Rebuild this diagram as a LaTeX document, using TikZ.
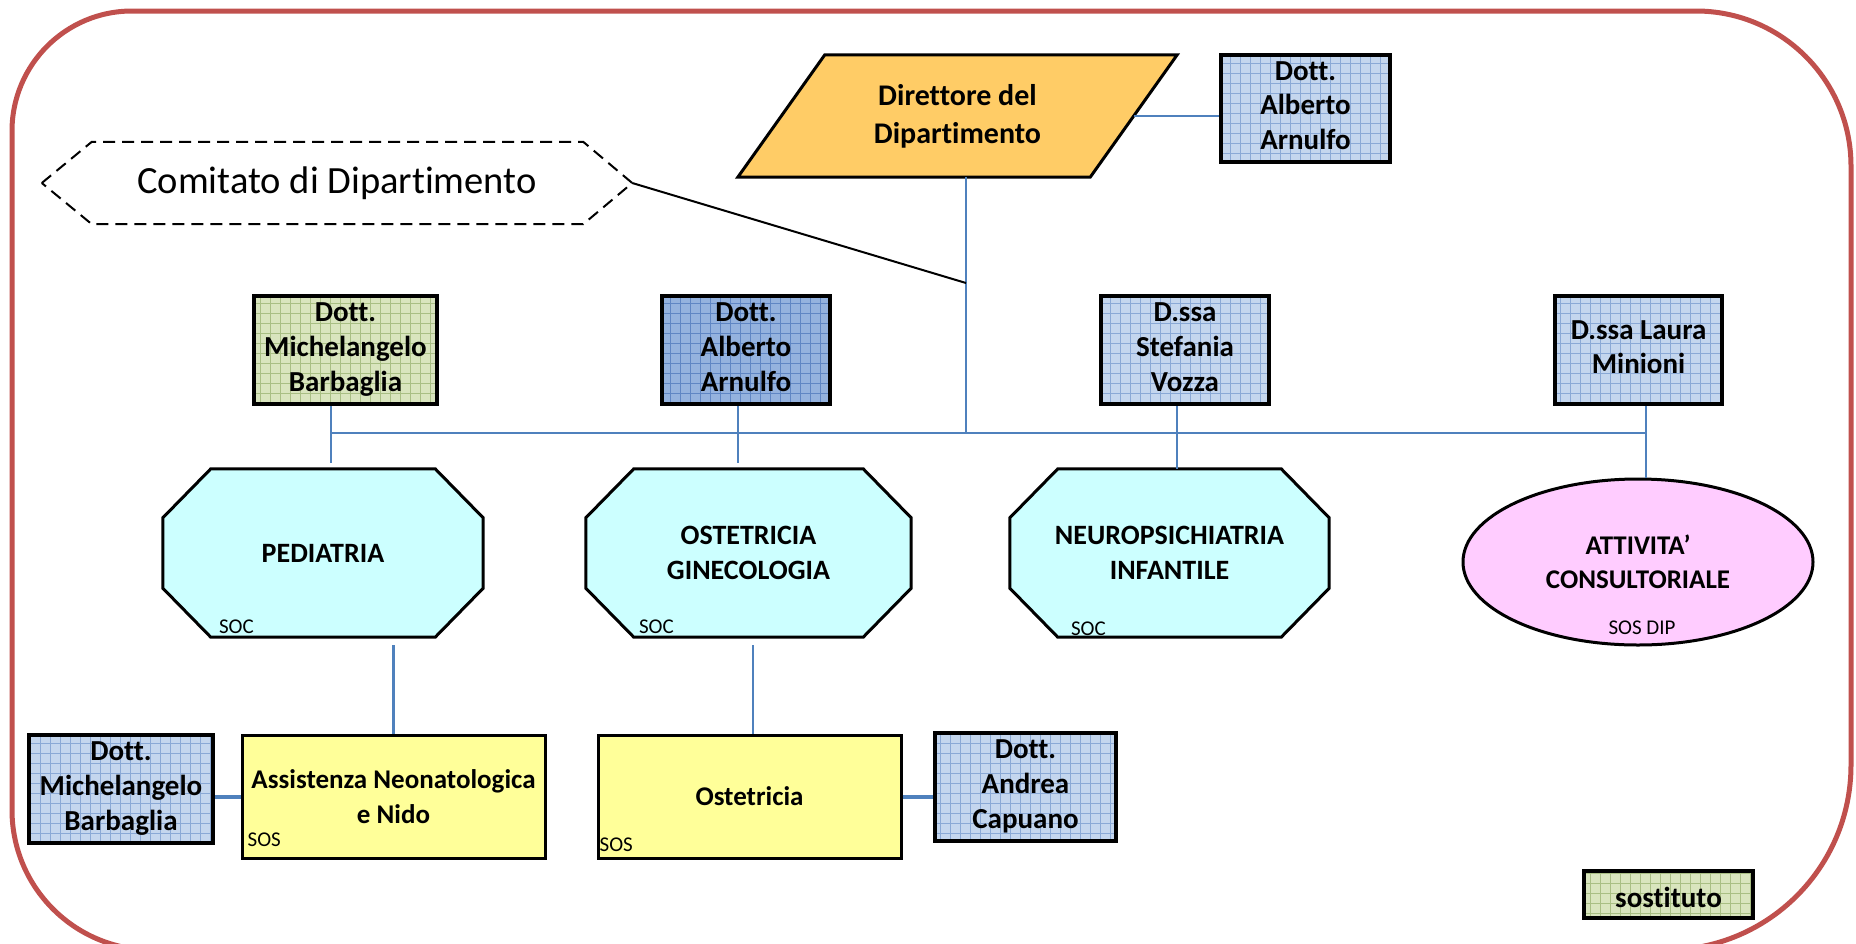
\documentclass[tikz,border=0pt]{standalone}
\usepackage{fontspec}
\setmainfont{Carlito}[Ligatures=NoCommon]
\usetikzlibrary{shapes.geometric,patterns.meta,calc}
\pgfdeclarelayer{bg}
\pgfsetlayers{bg,main}
\definecolor{borderred}{HTML}{C0504D}
\definecolor{connblue}{HTML}{4F81BD}
\definecolor{persfill}{HTML}{C4D6EE}
\definecolor{persgrid}{HTML}{8AA9D6}
\definecolor{darkfill}{HTML}{94B2DE}
\definecolor{darkgrid}{HTML}{5F86C4}
\definecolor{greenfill}{HTML}{D9E5BE}
\definecolor{greengrid}{HTML}{A9BF84}
\definecolor{dirorange}{HTML}{FFCC66}
\definecolor{octfill}{HTML}{CCFFFF}
\definecolor{pinkfill}{HTML}{FFCCFF}
\definecolor{yelfill}{HTML}{FFFF99}
\newcommand\mkoct[1]{%
  \begin{pgfonlayer}{bg}
  \draw[octline] ([xshift=48pt]#1.north west) -- ([xshift=-48pt]#1.north east)
    -- ([yshift=-49pt]#1.north east) -- ([yshift=49pt]#1.south east)
    -- ([xshift=-48pt]#1.south east) -- ([xshift=48pt]#1.south west)
    -- ([yshift=49pt]#1.south west) -- ([yshift=-49pt]#1.north west) -- cycle;
  \end{pgfonlayer}}
\newcommand\topstrut{\rule[-6pt]{0pt}{38pt}}
\newcommand\botstrut{\rule[-6pt]{0pt}{30pt}}
\begin{document}
\begin{tikzpicture}[x=1pt,y=-1pt,
  bigtxt/.style={font=\fontsize{27}{34.5}\selectfont\bfseries,align=center},
  smalltxt/.style={font=\fontsize{21}{24}\selectfont,inner sep=0pt},
  persbase/.style={font=\fontsize{29}{34.7}\selectfont\bfseries,align=center,
    draw=black,line width=4pt,inner sep=0pt,
    execute at begin node=\topstrut, execute at end node=\botstrut},
  pers/.style={persbase,preaction={fill=persfill},
    preaction={pattern={Hatch[angle=0,distance=10pt,line width=0.8pt]},pattern color=persgrid}},
  persdark/.style={persbase,preaction={fill=darkfill},
    preaction={pattern={Hatch[angle=0,distance=10pt,line width=0.8pt]},pattern color=darkgrid}},
  persgreen/.style={persbase,preaction={fill=greenfill},
    preaction={pattern={Hatch[angle=0,distance=10pt,line width=0.8pt]},pattern color=greengrid}},
  octnode/.style={font=\fontsize{28}{34.5}\selectfont\bfseries,align=center,inner sep=0pt,minimum height=168pt},
  octline/.style={draw=black,fill=octfill,line width=3pt},
  sosbox/.style={bigtxt,draw=black,fill=yelfill,line width=3pt,inner sep=0pt,
    minimum width=303pt,minimum height=123pt},
  conn/.style={draw=connblue,line width=2.5pt},
  connthick/.style={draw=connblue,line width=4pt},
  blk/.style={draw=black,line width=2pt},
]
\useasboundingbox (0,0) rectangle (1856,943);
% outer border
\draw[borderred,line width=5pt] (12,131) arc[start angle=180,end angle=270,radius=120]
  -- (1696,11) arc[start angle=270,end angle=360,radius=155]
  -- (1851,765) arc[start angle=0,end angle=90,radius=185]
  -- (152,950) arc[start angle=90,end angle=180,radius=140] -- cycle;

% director
\node[align=center,font=\fontsize{30}{38}\selectfont\bfseries,inner sep=0pt,
  minimum width=439pt,minimum height=122pt] (dir) at (957.5,116) {Direttore del\\Dipartimento};
\begin{pgfonlayer}{bg}
\draw[draw=black,fill=dirorange,line width=3pt] (dir.south west) -- ([xshift=-87pt]dir.south east)
  -- (dir.north east) -- ([xshift=87pt]dir.north west) -- cycle;
\end{pgfonlayer}
\node[pers,minimum width=169pt,minimum height=107pt] (arn0) at (1305.5,108.5) {Dott.\\Alberto\\Arnulfo};

% comitato
\node[font=\fontsize{38.5}{44}\selectfont,inner sep=0pt,minimum width=590pt,minimum height=82pt] (com) at (337,183) {Comitato di Dipartimento};
\begin{pgfonlayer}{bg}
\draw[black,line width=2pt,dash pattern=on 12pt off 7pt] (com.west) -- ([xshift=50pt]com.north west)
  -- ([xshift=-49pt]com.north east) -- (com.east) -- ([xshift=-49pt]com.south east)
  -- ([xshift=50pt]com.south west) -- cycle;
\end{pgfonlayer}

% persons top row
\node[persgreen,minimum width=183pt,minimum height=108pt] (mich1) at (345.5,350) {Dott.\\Michelangelo\\Barbaglia};
\node[persdark,minimum width=168pt,minimum height=108pt] (arn1) at (746,350) {Dott.\\Alberto\\Arnulfo};
\node[pers,minimum width=168pt,minimum height=108pt] (stef) at (1185,350) {D.ssa\\Stefania\\Vozza};
\node[pers,minimum width=167pt,minimum height=108pt] (laura) at (1638.5,350) {D.ssa Laura\\Minioni};

% octagons
\node[octnode,minimum width=320pt] (ped) at (323,553) {PEDIATRIA};
\mkoct{ped}
\node[octnode,minimum width=325pt] (ostg) at (748.5,553) {OSTETRICIA\\GINECOLOGIA};
\mkoct{ostg}
\node[octnode,minimum width=319pt] (neuro) at (1169.5,553) {NEUROPSICHIATRIA\\INFANTILE};
\mkoct{neuro}
\node[smalltxt,anchor=base west] (soc1) at ([shift={(56pt,4pt)}]ped.south west) {SOC};
\node[smalltxt,anchor=base west] (soc2) at ([shift={(53pt,4pt)}]ostg.south west) {SOC};
\node[smalltxt,anchor=base west] (soc3) at ([shift={(61pt,2pt)}]neuro.south west) {SOC};

% ellipse
\node[bigtxt,ellipse,draw=black,fill=pinkfill,line width=3pt,inner sep=0pt,
  minimum width=350pt,minimum height=166pt] (ell) at (1638,562) {ATTIVITA’\\CONSULTORIALE};
\node[smalltxt] (sosdip) at (1642,628) {SOS DIP};

% bottom row
\node[sosbox] (ass) at (393.5,796.5) {Assistenza Neonatologica\\e Nido};
\node[sosbox] (ost) at (749.5,796.5) {Ostetricia};
\node[smalltxt,anchor=base west] (sos1) at ([shift={(7pt,13pt)}]ass.south west) {SOS};
\node[smalltxt,anchor=base west] (sos2) at ([shift={(3pt,8pt)}]ost.south west) {SOS};
\node[pers,minimum width=184pt,minimum height=108pt] (mich2) at (121,789) {Dott.\\Michelangelo\\Barbaglia};
\node[pers,minimum width=181pt,minimum height=108pt] (capu) at (1025.5,787) {Dott.\\Andrea\\Capuano};

% legend
\node[persgreen,minimum width=169pt,minimum height=47pt] (sost) at (1668.5,894.5) {sostituto};

% connectors
\coordinate (bL) at (331,433);
\coordinate (bR) at (1646,433);
\coordinate (j) at (966,433);
\coordinate (k) at (966,283);
\draw[conn] (bL) -- (bR);
\draw[conn] ([xshift=8.5pt]dir.south) -- (j);
\draw[blk] (com.east) -- (k);
\draw[conn] ([xshift=-43pt]dir.east) -- (arn0.west |- dir.east);
\draw[conn,shorten >=6pt] (mich1.south -| bL) -- (ped.north -| bL);
\draw[conn,shorten >=6pt] ([xshift=-8pt]arn1.south) -- ([xshift=-8pt]arn1.south |- ostg.north);
\draw[conn] ([xshift=-8pt]stef.south) -- ([xshift=-8pt]stef.south |- neuro.north);
\draw[conn] ([xshift=7.5pt]laura.south) -- ([xshift=7.5pt]laura.south |- ell.north);
\draw[conn,shorten <=8pt] (ass.north |- ped.south) -- (ass.north);
\draw[conn,shorten <=8pt] ([xshift=3.5pt]ost.north |- ostg.south) -- ([xshift=3.5pt]ost.north);
\draw[connthick] (ass.west) -- (ass.west -| mich2.east);
\draw[connthick] (ost.east) -- (ost.east -| capu.west);
\end{tikzpicture}
\end{document}
